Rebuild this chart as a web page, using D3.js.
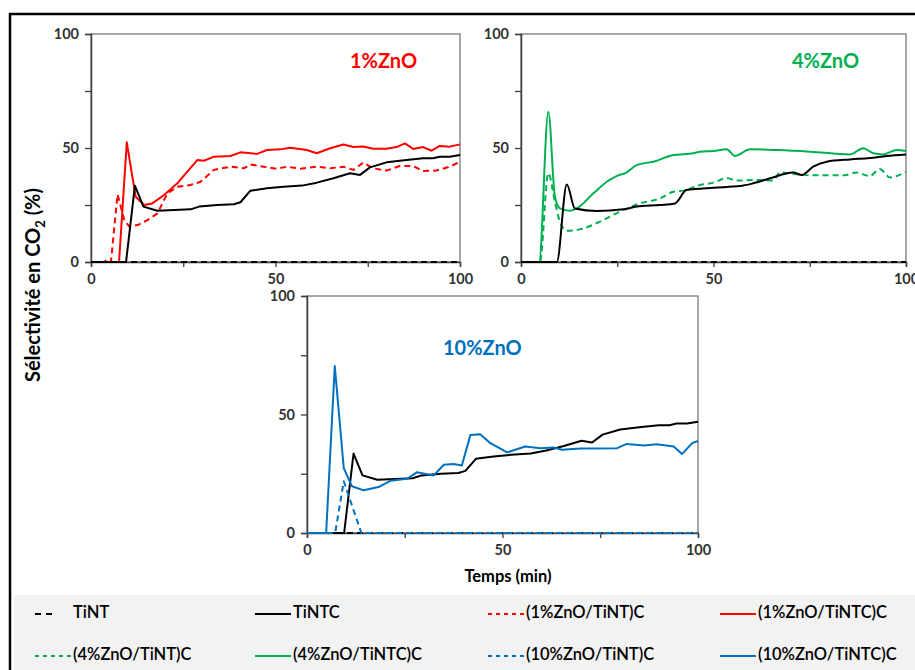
<!DOCTYPE html>
<html>
<head>
<meta charset="utf-8">
<script src="https://cdn.jsdelivr.net/npm/d3@7"></script>
<style>
  body { margin: 0; background: #fff; }
  text { font-family: Lato, "Open Sans", sans-serif; }
</style>
</head>
<body>
<div id="chart"></div>
<script>
'use strict';

// Time axis (min) and CO2 selectivity (%)

// TiNTC (black solid, same in all three panels)
const tintcT = [0, 9.5, 11.9, 14.2, 18, 22.5, 27, 29.3, 34.2, 38.7, 40.5, 43.2, 47.7, 52.2, 57.2, 61.2, 65.7, 70.2, 72.9, 75.6, 80.1, 85.5, 90, 92.7, 94.5, 97.2, 100];
const tintcV = [0, 0, 33.5, 24.3, 22.5, 22.8, 23.1, 24.3, 25, 25.3, 26.2, 31.3, 32.3, 33, 33.5, 34.8, 36.7, 38.9, 38.2, 41.5, 43.7, 44.7, 45.5, 45.5, 46.2, 46.2, 46.9];

// TiNT (black dashed) stays at zero
const tintT = [0, 100];
const tintV = [0, 0];

// 1%ZnO
const zn1TiNTCT = [0, 7.6, 9.7, 12.1, 14.4, 16.6, 19.8, 23.4, 26.1, 28.8, 30.6, 33.3, 37.8, 40.5, 45, 47.7, 51.3, 54, 58.5, 61.2, 64.8, 68.4, 71.1, 73.8, 76.5, 80.1, 82.8, 85.1, 87.3, 90, 92.3, 94.5, 97.2, 100];
const zn1TiNTCV = [0, 0, 52.5, 28.6, 25, 25.7, 29.4, 34.5, 39.6, 44.7, 44.4, 46.2, 46.5, 48.1, 47.4, 49.1, 49.4, 50.1, 49.1, 47.7, 49.9, 51.5, 50.4, 50.7, 49.7, 49.7, 50.4, 52, 49.6, 50.4, 48.8, 50.9, 50.6, 51.6];
const zn1TiNTT = [0, 3.5, 4.5, 5.4, 7.2, 9, 10.4, 12.6, 15.3, 18, 20.7, 23.4, 27, 29.7, 33.3, 37.8, 41.4, 43.2, 46.8, 50.4, 53.1, 56.7, 61.2, 64.8, 68.4, 71.1, 73.8, 76.5, 80.1, 83.7, 87.3, 90, 93.6, 97.2, 100];
const zn1TiNTV = [0, 0, 1, 0, 29.7, 18.4, 15.5, 16.2, 18.4, 21.3, 30.1, 33, 33.8, 35.2, 40.4, 41.8, 41.1, 42.8, 41.8, 40.9, 41.8, 40.9, 41.8, 41.1, 41.8, 40.4, 43.6, 41.1, 40.1, 42.1, 42.1, 39.9, 40.1, 41.8, 43.9];

// 4%ZnO
const zn4TiNTCT = [0, 4.7, 7.1, 8.8, 10.1, 12.7, 14.5, 18.8, 22.3, 24.8, 27.4, 30, 34.4, 39.6, 44.8, 46.5, 50, 53.4, 55.6, 59.5, 66.4, 75.1, 85.5, 88.9, 91.5, 94.1, 97.6, 100];
const zn4TiNTCV = [0, 0, 65.9, 28.7, 23.5, 22.5, 23.5, 30.1, 35.2, 37.7, 39.2, 42.5, 44, 46.9, 47.7, 48.4, 48.7, 49.4, 46.5, 49.4, 49.1, 48.4, 47.2, 49.9, 47.7, 47.2, 49.1, 48.7];
const zn4TiNTT = [0, 4.9, 7.1, 8.8, 10.1, 11.9, 15.3, 20.5, 25.7, 30.9, 36.1, 39.6, 42.2, 46.5, 50, 53.4, 56, 60.3, 65.5, 67.3, 70.7, 75.9, 83.7, 87.2, 90.6, 93.2, 95.8, 100];
const zn4TiNTV = [0, 0, 38.9, 26.5, 17.7, 13.7, 14.3, 17.7, 22.1, 25.7, 27.9, 30.8, 31.3, 33.8, 34.8, 36.8, 35.7, 36, 35.7, 39.3, 38.6, 38, 38, 39.2, 37.7, 40.8, 37.1, 39.5];
const tintc4T = [0, 9.3, 11.9, 14, 19.7, 26.6, 30, 36.1, 40, 43, 50, 56.9, 60.3, 64.7, 70.7, 72.9, 75.9, 79.4, 85.5, 90.6, 95, 100];
const tintc4V = [0, 0, 34, 23.5, 22.4, 23.1, 24.3, 25, 25.7, 31.6, 32.6, 33.3, 34.5, 36.7, 39.2, 38.2, 41.8, 44, 45, 45.6, 46.5, 47.2];

// 10%ZnO
const zn10TiNTCT = [0, 4.9, 7.1, 9.4, 11.5, 14.5, 18.3, 21.3, 25.6, 28.1, 32.4, 35, 37.5, 39.6, 41.8, 44.3, 46.9, 51.2, 55.8, 59.7, 63.1, 65.2, 69.9, 73.3, 79.3, 81.8, 86.1, 89.5, 93.8, 95.9, 98.5, 100];
const zn10TiNTCV = [0, 0, 70.5, 27.4, 19.7, 18, 19.4, 22, 22.9, 25.6, 24.3, 28.8, 29.1, 28.5, 41.4, 41.7, 37.9, 34, 36.5, 35.8, 36.1, 35.1, 35.7, 35.7, 35.8, 37.6, 36.9, 37.4, 36.5, 33.3, 37.9, 38.8];
const zn10TiNTT = [0, 7.2, 9.4, 13.9, 100];
const zn10TiNTV = [0, 0, 21.8, 0, 0];

const yTicks = [0, 25, 50, 75, 100];
const yLabels = [0, 50, 100];
const xLabels = [0, 50, 100];

const legendLabels = ['TiNT', 'TiNTC', '(1%ZnO/TiNT)C', '(1%ZnO/TiNTC)C',
                      '(4%ZnO/TiNT)C', '(4%ZnO/TiNTC)C', '(10%ZnO/TiNT)C', '(10%ZnO/TiNTC)C'];

const palette = { black: '#000', red: '#ff0000', green: '#00b050', blue: '#0070c0' };

const width = 915, height = 670;

const svg = d3.select('#chart').append('svg')
    .attr('width', width)
    .attr('height', height);

// Outer frame
svg.append('path')
    .attr('d', `M10,${height + 5} V14 H${width + 5}`)
    .attr('fill', 'none')
    .attr('stroke', '#000')
    .attr('stroke-width', 2.5);

function zip(ts, vs){
    return ts.map((t, i) => [t, vs[i]]);
}

// Draw one panel
function drawPanel(box, title, titleColor, series, curve){
    const x = d3.scaleLinear().domain([0, 100]).range([box.x0, box.x1]);
    const y = d3.scaleLinear().domain([0, 100]).range([box.y0, box.y1]);

    const g = svg.append('g');

    // Plot border (top/right)
    g.append('rect')
        .attr('x', box.x0).attr('y', box.y1)
        .attr('width', box.x1 - box.x0).attr('height', box.y0 - box.y1)
        .attr('fill', 'none')
        .attr('stroke', '#8a8a8a')
        .attr('stroke-width', 1.5);

    const yAxis = g.append('g')
        .attr('transform', `translate(${box.x0},0)`)
        .call(d3.axisLeft(y).tickValues(yTicks).tickSize(6).tickFormat(d => yLabels.includes(d) ? d : ''));
    const xAxis = g.append('g')
        .attr('transform', `translate(0,${box.y0})`)
        .call(d3.axisBottom(x).tickValues(yTicks).tickSize(5).tickFormat(d => xLabels.includes(d) ? d : ''));

    [yAxis, xAxis].forEach(a => {
        a.select('.domain').attr('stroke', '#404040').attr('stroke-width', 1.5);
        a.selectAll('.tick line').attr('stroke', '#404040').attr('stroke-width', 1.3);
        a.selectAll('.tick text')
            .attr('fill', '#333')
            .attr('font-size', 14.5)
            .attr('font-weight', 'bold')
            .style('font-family', 'Lato, sans-serif');
    });
    yAxis.selectAll('.tick text').attr('x', -12);
    xAxis.selectAll('.tick text').attr('y', 12);

    const line = d3.line()
        .x(d => x(d[0]))
        .y(d => y(d[1]))
        .curve(curve);

    series.forEach(s => {
        g.append('path')
            .datum(zip(s.t, s.v))
            .attr('d', line)
            .attr('fill', 'none')
            .attr('stroke', s.color)
            .attr('stroke-width', 2)
            .attr('stroke-linejoin', 'round')
            .attr('stroke-dasharray', s.dash ? '6,4' : null);
    });

    g.append('text')
        .attr('x', box.titleX)
        .attr('y', box.titleY)
        .attr('fill', titleColor)
        .attr('font-size', 20)
        .attr('font-weight', 'bold')
        .attr('dominant-baseline', 'middle')
        .text(title);

    return { x, y };
}

drawPanel({ x0: 91, x1: 460, y0: 262, y1: 34, titleX: 350, titleY: 63 }, '1%ZnO', palette.red, [
    { t: tintT, v: tintV, color: palette.black, dash: true },
    { t: zn1TiNTT, v: zn1TiNTV, color: palette.red, dash: true },
    { t: zn1TiNTCT, v: zn1TiNTCV, color: palette.red, dash: false },
    { t: tintcT, v: tintcV, color: palette.black, dash: false }
], d3.curveLinear);

drawPanel({ x0: 521, x1: 906, y0: 262, y1: 34, titleX: 792, titleY: 63 }, '4%ZnO', palette.green, [
    { t: tintT, v: tintV, color: palette.black, dash: true },
    { t: zn4TiNTT, v: zn4TiNTV, color: palette.green, dash: true },
    { t: zn4TiNTCT, v: zn4TiNTCV, color: palette.green, dash: false },
    { t: tintc4T, v: tintc4V, color: palette.black, dash: false }
], d3.curveMonotoneX);

drawPanel({ x0: 307, x1: 698, y0: 533, y1: 296, titleX: 443, titleY: 350 }, '10%ZnO', palette.blue, [
    { t: tintT, v: tintV, color: palette.black, dash: true },
    { t: tintcT, v: tintcV, color: palette.black, dash: false },
    { t: zn10TiNTCT, v: zn10TiNTCV, color: palette.blue, dash: false },
    { t: zn10TiNTT, v: zn10TiNTV, color: palette.blue, dash: true }
], d3.curveLinear);

// Axis titles
const yTitle = svg.append('text')
    .attr('transform', 'translate(40,285) rotate(-90)')
    .attr('text-anchor', 'middle')
    .attr('font-size', 20)
    .attr('font-weight', 'bold')
    .attr('fill', '#000');
yTitle.append('tspan').text('Sélectivité en CO');
yTitle.append('tspan').attr('font-size', 13).attr('dy', 5).text('2');
yTitle.append('tspan').attr('dy', -5).text(' (%)');

svg.append('text')
    .attr('x', 508).attr('y', 578)
    .attr('text-anchor', 'middle')
    .attr('dominant-baseline', 'middle')
    .attr('font-size', 16.5)
    .attr('font-weight', 'bold')
    .text('Temps (min)');

// Legend
svg.append('rect')
    .attr('x', 14).attr('y', 595)
    .attr('width', width - 14).attr('height', height - 595)
    .attr('fill', '#f2f2f2');

const legendColors = [palette.black, palette.black, palette.red, palette.red,
                      palette.green, palette.green, palette.blue, palette.blue];
const legendDashed = [true, false, true, false, true, false, true, false];
const colX = [35, 255, 488, 720];
const rowY = [614, 656];

legendLabels.forEach((label, i) => {
    const cx = colX[i % 4], cy = rowY[Math.floor(i / 4)];
    const sampleEnd = (i === 0) ? cx + 18 : cx + 36;
    svg.append('line')
        .attr('x1', cx).attr('x2', sampleEnd)
        .attr('y1', cy).attr('y2', cy)
        .attr('stroke', legendColors[i])
        .attr('stroke-width', 2)
        .attr('stroke-dasharray', legendDashed[i] ? (i === 0 ? '6,5' : '4,4') : null);
    svg.append('text')
        .attr('x', cx + 38)
        .attr('y', cy)
        .attr('dominant-baseline', 'middle')
        .attr('font-size', 16.5)
        .attr('font-weight', 600)
        .attr('fill', '#000')
        .text(label);
});
</script>
</body>
</html>
